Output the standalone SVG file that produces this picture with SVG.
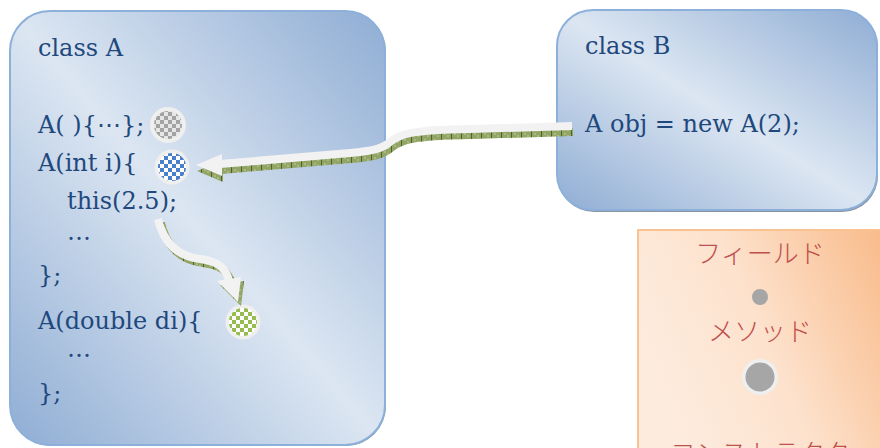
<svg xmlns="http://www.w3.org/2000/svg" width="880" height="448" viewBox="0 0 880 448">
<defs>
  <linearGradient id="blueG" x1="1" y1="0" x2="0" y2="1">
    <stop offset="0" stop-color="#8fadd4"/>
    <stop offset="0.5" stop-color="#dce6f2"/>
    <stop offset="1" stop-color="#8fadd4"/>
  </linearGradient>
  <linearGradient id="orangeG" x1="0" y1="0.4" x2="1" y2="0">
    <stop offset="0" stop-color="#fdebdd"/>
    <stop offset="0.4" stop-color="#fde2cd"/>
    <stop offset="1" stop-color="#f8b784"/>
  </linearGradient>
  <pattern id="hatch" width="10" height="6" patternUnits="userSpaceOnUse">
    <rect width="10" height="6" fill="#92a565"/>
    <rect x="0" y="0" width="1" height="6" fill="#4f6228"/>
    <rect x="3" y="1" width="2" height="2" fill="#a9b985"/>
    <rect x="6" y="3" width="2" height="2" fill="#a9b985"/>
  </pattern>
  <pattern id="chkGray" width="8" height="8" patternUnits="userSpaceOnUse">
    <rect width="8" height="8" fill="#e6e6e6"/>
    <rect width="4" height="4" fill="#a3a3a3"/>
    <rect x="4" y="4" width="4" height="4" fill="#a3a3a3"/>
  </pattern>
  <pattern id="chkBlue" width="8" height="8" patternUnits="userSpaceOnUse">
    <rect width="8" height="8" fill="#ffffff"/>
    <rect width="4" height="4" fill="#4a7fcb"/>
    <rect x="4" y="4" width="4" height="4" fill="#4a7fcb"/>
  </pattern>
  <pattern id="chkGreen" width="8" height="8" patternUnits="userSpaceOnUse">
    <rect width="8" height="8" fill="#ffffff"/>
    <rect width="4" height="4" fill="#96bb4e"/>
    <rect x="4" y="4" width="4" height="4" fill="#96bb4e"/>
  </pattern>
</defs>
<style>
  .box { fill: url(#blueG); stroke: #8db0db; stroke-width: 2; }
  .edge { fill: #8893a0; }
  .code { font-family: "DejaVu Serif", "Liberation Serif", serif; font-size: 24px; fill: #1f497d; }
  .jp { font-family: "Noto Sans CJK JP", sans-serif; font-size: 26px; fill: #c0504d; text-anchor: middle; font-weight: 300; }
  .ring { fill: #efefef; }
  .band { fill: none; stroke: #f2f2f2; stroke-width: 8; }
  .bandS { fill: none; stroke: url(#hatch); stroke-width: 8; }
</style>

<g id="classA">
  <rect class="edge" x="11" y="12" width="375" height="434" rx="40"/>
  <rect class="box" x="10" y="11" width="375" height="434" rx="40"/>
  <text class="code" x="38" y="56">class A</text>
  <text class="code" x="38" y="133">A( ){⋯};</text>
  <text class="code" x="38" y="171">A(int i){</text>
  <text class="code" x="67" y="209">this(2.5);</text>
  <text class="code" x="67" y="240">…</text>
  <text class="code" x="38" y="283">};</text>
  <text class="code" x="38" y="329">A(double di){</text>
  <text class="code" x="67" y="357">…</text>
  <text class="code" x="38" y="401">};</text>
  <g id="ctorDefault">
    <circle class="ring" cx="168" cy="125" r="18"/>
    <circle cx="168" cy="125" r="14" fill="url(#chkGray)"/>
  </g>
  <g id="ctorInt">
    <circle class="ring" cx="172" cy="167" r="17.5"/>
    <circle cx="172" cy="167" r="14" fill="url(#chkBlue)"/>
  </g>
  <g id="ctorDouble">
    <circle class="ring" cx="243" cy="322" r="17.5"/>
    <circle cx="243" cy="322" r="14" fill="url(#chkGreen)"/>
  </g>
</g>

<g id="classB">
  <rect class="edge" x="558" y="12" width="320" height="200" rx="36"/>
  <rect class="box" x="557" y="10" width="320" height="200" rx="36"/>
  <text class="code" x="585" y="54">class B</text>
  <text class="code" x="585" y="132">A obj = new A(2);</text>
</g>

<g id="legend">
  <rect x="638" y="230" width="260" height="240" fill="url(#orangeG)" stroke="#fbc291" stroke-width="2"/>
  <text class="jp" x="760" y="263">フィールド</text>
  <circle cx="760" cy="297" r="8" fill="#a6a6a6"/>
  <text class="jp" x="760" y="341">メソッド</text>
  <circle class="ring" cx="760" cy="377" r="18"/>
  <circle cx="760" cy="377" r="14.5" fill="#a6a6a6"/>
  <text class="jp" x="760" y="463">コンストラクタ</text>
</g>

<g id="connectors">
  <g id="callNew">
    <g transform="translate(1,6)">
      <path class="bandS" d="M 572 126 L 470 129 C 410 130, 400 134, 390 142 C 382 149, 372 151, 350 153 L 220 164"/>
      <polygon points="222,154 196,165 222,176" fill="url(#hatch)"/>
    </g>
    <path class="band" d="M 572 126 L 470 129 C 410 130, 400 134, 390 142 C 382 149, 372 151, 350 153 L 220 164"/>
    <polygon points="222,154 196,165 222,176" fill="#f2f2f2"/>
  </g>
  <g id="callThis">
    <g transform="translate(3,4)">
      <path class="bandS" d="M 158 219 C 163 240, 175 256, 200 259 C 218 261, 226 268, 229 281"/>
      <polygon points="217,281 241,277 238,302" fill="url(#hatch)"/>
    </g>
    <path class="band" d="M 158 219 C 163 240, 175 256, 200 259 C 218 261, 226 268, 229 281"/>
    <polygon points="217,281 241,277 238,302" fill="#f2f2f2"/>
  </g>
</g>
</svg>
